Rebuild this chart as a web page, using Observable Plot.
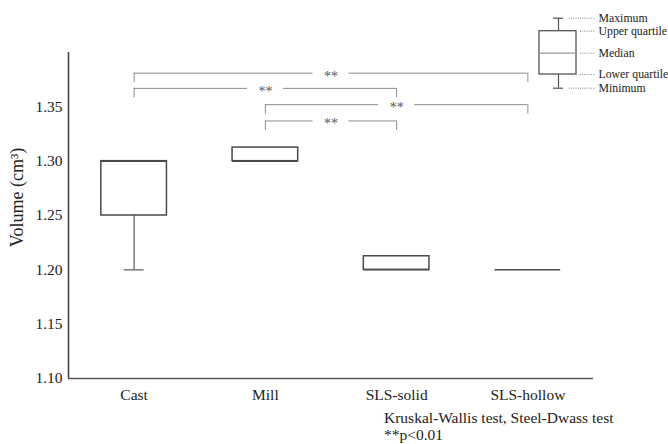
<!DOCTYPE html>
<html>
<head>
<meta charset="utf-8">
<script src="https://cdn.jsdelivr.net/npm/d3@7"></script>
<script src="https://cdn.jsdelivr.net/npm/@observablehq/plot@0.6"></script>
<style>
  body { margin: 0; background: #fff; }
  #wrap { position: relative; width: 668px; height: 444px; overflow: hidden;
          font-family: "Liberation Serif", "Times New Roman", serif; }
  #key { position: absolute; left: 538px; top: 0; }
  #note { position: absolute; left: 384px; top: 409px; font-size: 15.5px; line-height: 17px; color: #222; }
</style>
</head>
<body>
<div id="wrap">
  <div id="chart"></div>
  <div id="key"></div>
  <div id="note">Kruskal-Wallis test, Steel-Dwass test<br>**p&lt;0.01</div>
</div>
<script>
// Volume per manufacturing method (cm³), five-number summaries
const groups = ["Cast", "Mill", "SLS-solid", "SLS-hollow"];
const minimum = [1.20, 1.30, 1.20, 1.20];
const lowerQuartile = [1.25, 1.30, 1.20, 1.20];
const median = [1.30, 1.30, 1.20, 1.20];
const upperQuartile = [1.30, 1.3125, 1.2125, 1.20];
const maximum = [1.30, 1.3125, 1.2125, 1.20];
const yTicks = [1.10, 1.15, 1.20, 1.25, 1.30, 1.35];

// Steel-Dwass pairwise comparisons (group indices) and bracket heights
const pairFrom = [0, 0, 1, 1];
const pairTo = [3, 2, 3, 2];
const pairLevel = [1.381, 1.367, 1.352, 1.337];
const pairLabel = ["**", "**", "**", "**"];

// Key explaining the box-plot parts
const keyLabels = ["Maximum", "Upper quartile", "Median", "Lower quartile", "Minimum"];
const keyLevels = [82.3, 69.3, 47.3, 26, 12.3];

const BOX = 0.25;     // half box width, in category units
const CAP = 0.076;    // half whisker-cap width
const GAP = 0.137;    // half gap left for the "**" label
const DROP = 0.0087;  // bracket leg length

const stats = groups.map((g, i) => ({
  i, group: g,
  min: minimum[i], q1: lowerQuartile[i], med: median[i], q3: upperQuartile[i], max: maximum[i]
}));

const pairs = pairFrom.map((f, k) => ({
  a: f, b: pairTo[k], y: pairLevel[k], label: pairLabel[k], mid: (f + pairTo[k]) / 2
}));
const pairSegments = pairs.flatMap(p => [
  {x1: p.a, x2: p.mid - GAP, y: p.y},
  {x1: p.mid + GAP, x2: p.b, y: p.y}
]);
const pairLegs = pairs.flatMap(p => [
  {x: p.a, y1: p.y, y2: p.y - DROP},
  {x: p.b, y1: p.y, y2: p.y - DROP}
]);

const serif = "'Liberation Serif', 'Times New Roman', serif";
const boxStroke = "#4a4a4a";
const chart = Plot.plot({
  width: 668,
  height: 405,
  marginLeft: 68,
  marginRight: 75,
  marginTop: 52,
  marginBottom: 27,
  style: {fontFamily: serif, fontSize: "15.5px", color: "#222", background: "#fff"},
  x: {domain: [-0.5, 3.5], ticks: [0, 1, 2, 3], tickFormat: i => groups[i], tickSize: 0, tickPadding: 10, label: null},
  y: {domain: [1.10, 1.40], ticks: yTicks, tickFormat: d3.format(".2f"), tickSize: 0, tickPadding: 6, label: null},
  marks: [
    // comparison brackets
    Plot.ruleY(pairSegments, {y: "y", x1: "x1", x2: "x2", stroke: "#8c8c8c", strokeWidth: 1}),
    Plot.ruleX(pairLegs, {x: "x", y1: "y1", y2: "y2", stroke: "#8c8c8c", strokeWidth: 1}),
    Plot.text(pairs, {x: "mid", y: "y", text: "label", fill: "#555", fontSize: 14, dy: 3}),
    // whiskers and caps
    Plot.ruleX(stats.filter(d => d.min < d.q1), {x: "i", y1: "min", y2: "q1", stroke: "#666", strokeWidth: 1.3}),
    Plot.ruleX(stats.filter(d => d.max > d.q3), {x: "i", y1: "q3", y2: "max", stroke: "#666", strokeWidth: 1.3}),
    Plot.ruleY(stats.filter(d => d.min < d.q1), {y: "min", x1: d => d.i - CAP, x2: d => d.i + CAP, stroke: "#666", strokeWidth: 1.3}),
    Plot.ruleY(stats.filter(d => d.max > d.q3), {y: "max", x1: d => d.i - CAP, x2: d => d.i + CAP, stroke: "#666", strokeWidth: 1.3}),
    // boxes and medians
    Plot.rect(stats.filter(d => d.q3 > d.q1), {x1: d => d.i - BOX, x2: d => d.i + BOX, y1: "q1", y2: "q3", fill: "white", stroke: boxStroke, strokeWidth: 1.5}),
    Plot.ruleY(stats, {y: "med", x1: d => d.i - BOX, x2: d => d.i + BOX, stroke: boxStroke, strokeWidth: 1.5}),
    // axis lines
    Plot.ruleX([-0.5], {stroke: "#444", strokeWidth: 1.6}),
    Plot.ruleY([1.10], {stroke: "#555", strokeWidth: 1.6}),
    // y axis title
    Plot.text(["Volume (cm³)"], {frameAnchor: "left", textAnchor: "middle", rotate: -90, dx: -51, dy: -18, fontSize: 18, fill: "#222"})
  ]
});
document.getElementById("chart").appendChild(chart);

// key diagram
const key = keyLabels.map((label, k) => ({label, v: keyLevels[k], outer: k === 0 || k === 4}));
const [kMax, kQ3, kMed, kQ1, kMin] = keyLevels;
const keyPlot = Plot.plot({
  width: 130,
  height: 100,
  margin: 0,
  x: {domain: [0, 130], range: [0, 130], axis: null},
  y: {domain: [0, 100], range: [100, 0], axis: null},
  style: {fontFamily: serif, overflow: "visible", background: "transparent"},
  marks: [
    Plot.ruleX([20], {y1: kQ3, y2: kMax, stroke: "#555", strokeWidth: 1.2}),
    Plot.ruleX([20], {y1: kMin, y2: kQ1, stroke: "#555", strokeWidth: 1.2}),
    Plot.ruleY([kMax, kMin], {x1: 15, x2: 25, stroke: "#555", strokeWidth: 1.2}),
    Plot.rect([0], {x1: 1, x2: 38, y1: kQ1, y2: kQ3, fill: "white", stroke: "#555", strokeWidth: 1.3}),
    Plot.ruleY([kMed], {x1: 1, x2: 38, stroke: "#999", strokeWidth: 1.2}),
    Plot.ruleY(key, {y: "v", x1: d => d.outer ? 31 : 42, x2: 57, stroke: "#666", strokeWidth: 0.8, strokeDasharray: "1,1.2"}),
    Plot.text(key, {y: "v", x: 60, text: "label", textAnchor: "start", fontSize: 11.8, fill: "#222"})
  ]
});
document.getElementById("key").appendChild(keyPlot);
</script>
</body>
</html>
